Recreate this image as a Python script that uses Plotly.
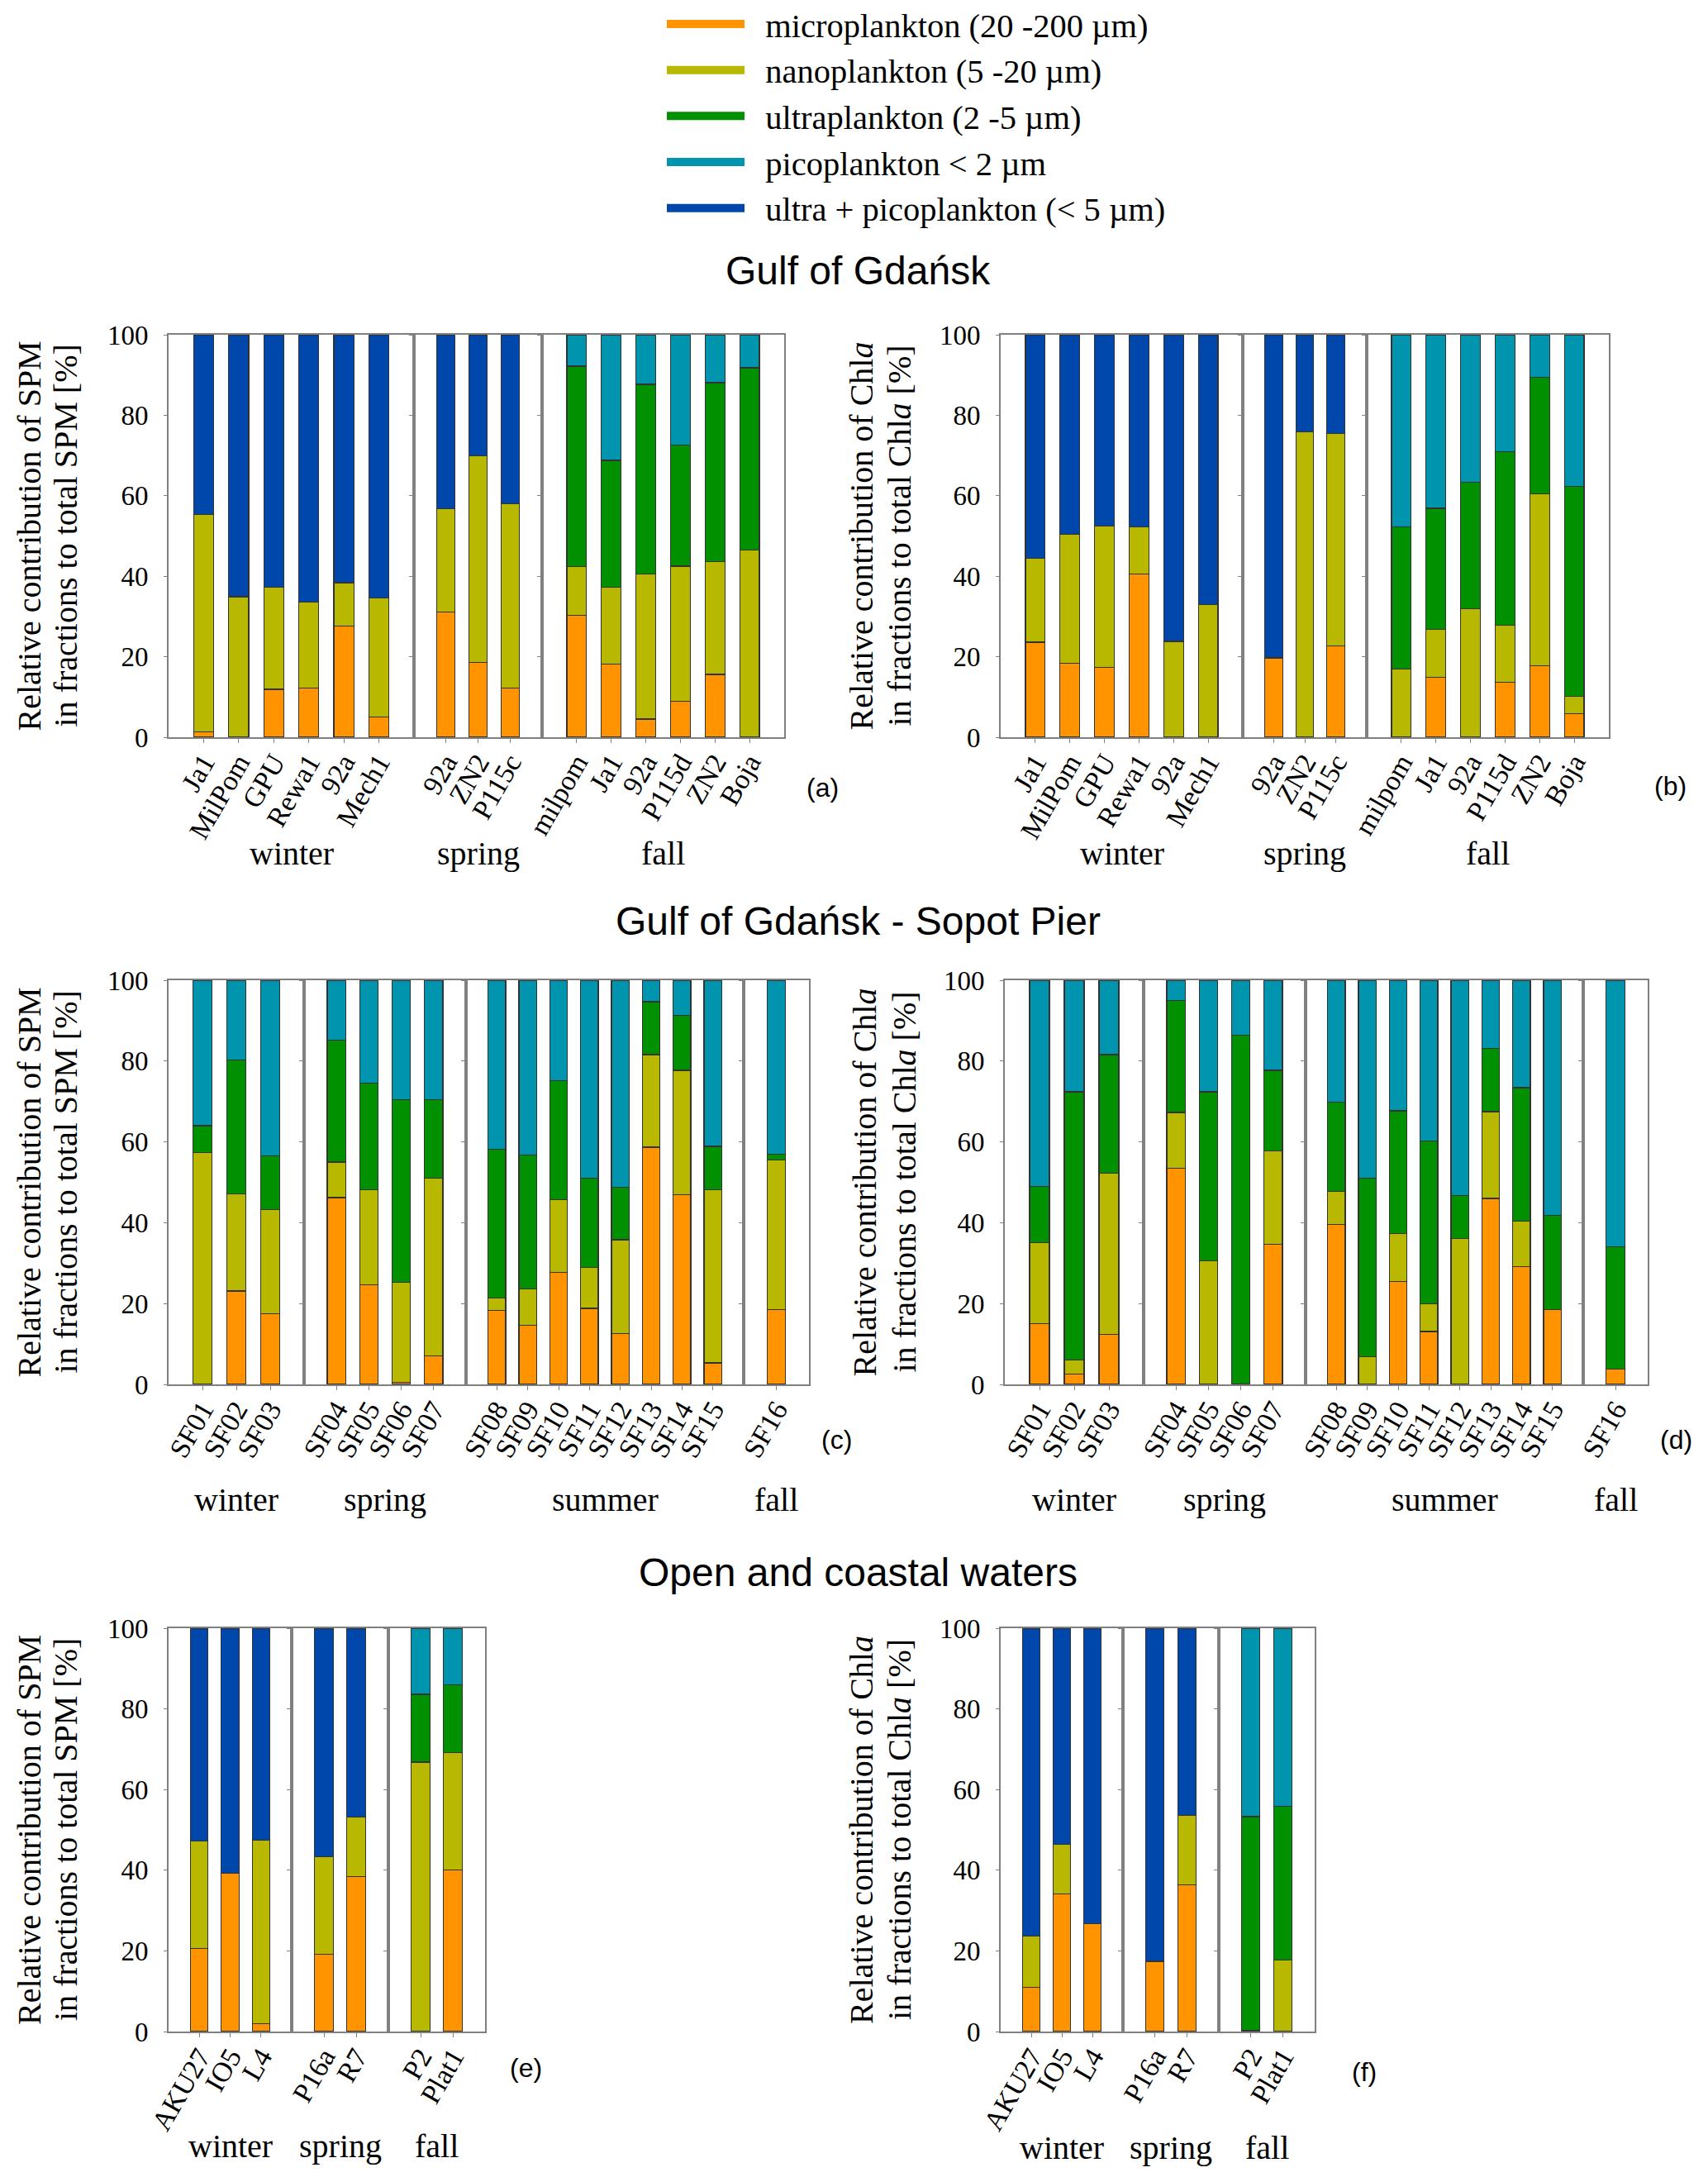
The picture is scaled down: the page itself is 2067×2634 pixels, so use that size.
import plotly.graph_objects as go

W, H = 2067, 2634
PAD = 8  # page body margin of the html
FW, FH = W - 2 * PAD, H - 2 * PAD
SERIF = "Liberation Serif"
SANS = "Liberation Sans"

fraction_names = [
    "microplankton (20 -200 µm)",
    "nanoplankton (5 -20 µm)",
    "ultraplankton (2 -5 µm)",
    "picoplankton < 2 µm",
    "ultra + picoplankton (< 5 µm)",
]
fraction_colors = ["#FF9400", "#B8B800", "#009000", "#0094AE", "#0047AB"]

# ---- (a) Gulf of Gdansk, SPM ----
a_stations = ["Ja1", "MilPom", "GPU", "Rewa1", "92a", "Mech1",
              "92a", "ZN2", "P115c",
              "milpom", "Ja1", "92a", "P115d", "ZN2", "Boja"]
a_seasons = ["winter"] * 6 + ["spring"] * 3 + ["fall"] * 6
a_micro = [1.4, 0, 11.9, 12.3, 27.7, 5.1, 31.1, 18.6, 12.3, 30.3, 18.1, 4.5, 9.0, 15.6, 0]
a_nano = [54.0, 34.9, 25.4, 21.2, 10.7, 29.5, 25.6, 51.4, 45.7, 12.1, 19.1, 36.1, 33.5, 28.0, 46.5]
a_ultra = [0, 0, 0, 0, 0, 0, 0, 0, 0, 49.8, 31.6, 47.1, 30.1, 44.5, 45.3]
a_pico = [0, 0, 0, 0, 0, 0, 0, 0, 0, 7.8, 31.2, 12.3, 27.4, 11.9, 8.2]
a_ultrapico = [44.6, 65.1, 62.7, 66.5, 61.6, 65.4, 43.3, 30.0, 42.0, 0, 0, 0, 0, 0, 0]

# ---- (b) Gulf of Gdansk, Chla ----
b_stations = a_stations
b_seasons = a_seasons
b_micro = [23.6, 18.3, 17.4, 40.5, 0, 0, 19.7, 0, 22.7, 0, 14.9, 0, 13.7, 17.7, 5.8]
b_nano = [20.8, 32.1, 35.1, 11.8, 23.8, 32.9, 0, 75.9, 52.8, 16.9, 11.9, 32.0, 14.2, 42.7, 4.3]
b_ultra = [0, 0, 0, 0, 0, 0, 0, 0, 0, 35.4, 30.1, 31.4, 43.1, 29.0, 52.3]
b_pico = [0, 0, 0, 0, 0, 0, 0, 0, 0, 47.7, 43.1, 36.6, 29.0, 10.6, 37.6]
b_ultrapico = [55.6, 49.6, 47.5, 47.7, 76.2, 67.1, 80.3, 24.1, 24.5, 0, 0, 0, 0, 0, 0]

# ---- (c) Sopot Pier, SPM ----
c_stations = ["SF01", "SF02", "SF03", "SF04", "SF05", "SF06", "SF07", "SF08",
              "SF09", "SF10", "SF11", "SF12", "SF13", "SF14", "SF15", "SF16"]
c_seasons = ["winter"] * 3 + ["spring"] * 4 + ["summer"] * 8 + ["fall"]
c_micro = [0, 23.1, 17.5, 46.2, 24.6, 0.5, 7.1, 18.3, 14.6, 27.7, 18.8, 12.6, 58.7, 47.0, 5.3, 18.5]
c_nano = [57.3, 24.1, 25.8, 8.8, 23.5, 24.7, 44.0, 3.0, 9.1, 18.0, 10.2, 23.2, 22.9, 30.7, 42.8, 37.1]
c_ultra = [6.7, 33.1, 13.3, 30.1, 26.4, 45.2, 19.3, 36.8, 33.1, 29.4, 22.0, 12.9, 13.1, 13.6, 10.8, 1.4]
c_pico = [36.0, 19.7, 43.4, 14.9, 25.5, 29.6, 29.6, 41.9, 43.2, 24.9, 49.0, 51.3, 5.3, 8.7, 41.1, 43.0]
c_ultrapico = [0] * 16

# ---- (d) Sopot Pier, Chla ----
d_stations = c_stations
d_seasons = c_seasons
d_micro = [15.1, 2.5, 12.4, 53.4, 0, 0, 34.7, 39.5, 0, 25.5, 13.1, 0, 46.0, 29.2, 18.5, 3.8]
d_nano = [20.0, 3.5, 39.8, 13.9, 30.5, 0, 23.0, 8.2, 6.9, 11.8, 6.9, 36.1, 21.5, 11.2, 0, 0]
d_ultra = [13.8, 66.4, 29.4, 27.7, 41.9, 86.4, 20.0, 22.1, 44.2, 30.4, 40.2, 10.6, 15.6, 33.0, 23.3, 30.3]
d_pico = [51.1, 27.6, 18.4, 5.0, 27.6, 13.6, 22.3, 30.2, 48.9, 32.3, 39.8, 53.3, 16.9, 26.6, 58.2, 65.9]
d_ultrapico = [0] * 16

# ---- (e) Open and coastal waters, SPM ----
e_stations = ["AKU27", "IO5", "L4", "P16a", "R7", "P2", "Plat1"]
e_seasons = ["winter"] * 3 + ["spring"] * 2 + ["fall"] * 2
e_micro = [20.6, 39.3, 1.9, 19.1, 38.5, 0, 40.1]
e_nano = [26.6, 0, 45.5, 24.2, 14.6, 66.8, 29.0]
e_ultra = [0, 0, 0, 0, 0, 16.8, 16.9]
e_pico = [0, 0, 0, 0, 0, 16.4, 14.0]
e_ultrapico = [52.8, 60.7, 52.6, 56.7, 46.9, 0, 0]

# ---- (f) Open and coastal waters, Chla ----
f_stations = e_stations
f_seasons = e_seasons
f_micro = [11.0, 34.2, 26.8, 17.4, 36.4, 0.3, 0]
f_nano = [12.7, 12.2, 0, 0, 17.2, 0, 17.7]
f_ultra = [0, 0, 0, 0, 0, 53.0, 38.1]
f_pico = [0, 0, 0, 0, 0, 46.7, 44.2]
f_ultrapico = [76.3, 53.6, 73.2, 82.6, 46.4, 0, 0]

spm_title = ["Relative contribution of SPM", "in fractions to total SPM [%]"]
chl_title = ["Relative contribution of Chl<i>a</i>", "in fractions to total Chl<i>a</i> [%]"]

# panel geometry in page pixels: group edges, top, bottom, y-title line x's, label pos, season label y
panels = [
    dict(st=a_stations, se=a_seasons, v=[a_micro, a_nano, a_ultra, a_pico, a_ultrapico],
         edges=[204, 501, 656, 949], top=405, bot=892, title=spm_title, tx=[35, 79],
         lab="(a)", lx=995, ly=953, sy=1032),
    dict(st=b_stations, se=b_seasons, v=[b_micro, b_nano, b_ultra, b_pico, b_ultrapico],
         edges=[1211, 1504, 1654, 1947], top=405, bot=892, title=chl_title, tx=[1042, 1088],
         lab="(b)", lx=2021, ly=951, sy=1032),
    dict(st=c_stations, se=c_seasons, v=[c_micro, c_nano, c_ultra, c_pico, c_ultrapico],
         edges=[204, 368, 564, 900, 979], top=1186, bot=1675, title=spm_title, tx=[35, 79],
         lab="(c)", lx=1012, ly=1742, sy=1814),
    dict(st=d_stations, se=d_seasons, v=[d_micro, d_nano, d_ultra, d_pico, d_ultrapico],
         edges=[1216, 1384, 1580, 1916, 1994], top=1186, bot=1675, title=chl_title, tx=[1046, 1094],
         lab="(d)", lx=2028, ly=1742, sy=1814),
    dict(st=e_stations, se=e_seasons, v=[e_micro, e_nano, e_ultra, e_pico, e_ultrapico],
         edges=[204, 353, 470, 587], top=1970, bot=2458, title=spm_title, tx=[35, 79],
         lab="(e)", lx=636, ly=2502, sy=2596),
    dict(st=f_stations, se=f_seasons, v=[f_micro, f_nano, f_ultra, f_pico, f_ultrapico],
         edges=[1211, 1359, 1475, 1591], top=1970, bot=2458, title=chl_title, tx=[1042, 1088],
         lab="(f)", lx=1651, ly=2507, sy=2598),
]

section_titles = [("Gulf of Gdańsk", 328), ("Gulf of Gdańsk - Sopot Pier", 1114),
                  ("Open and coastal waters", 1902)]


def px(x):
    return (x - PAD) / FW


def py(y):
    return 1 - (y - PAD) / FH


fig = go.Figure()
layout = {}
annotations = []
k = 0

for p in panels:
    seasons = list(dict.fromkeys(p["se"]))
    for gi, season in enumerate(seasons):
        k += 1
        xr = "x" if k == 1 else "x%d" % k
        yr = "y" if k == 1 else "y%d" % k
        idx = [i for i, s in enumerate(p["se"]) if s == season]
        cats = [p["st"][i] for i in idx]
        for fi in range(5):
            fig.add_trace(go.Bar(
                x=cats, y=[p["v"][fi][i] for i in idx],
                xaxis=xr, yaxis=yr, width=0.57, showlegend=False,
                marker=dict(color=fraction_colors[fi], line=dict(color="#333333", width=1.2)),
            ))
        layout["xaxis" if k == 1 else "xaxis%d" % k] = dict(
            domain=[px(p["edges"][gi]), px(p["edges"][gi + 1])], anchor=yr,
            type="category", range=[-1, len(cats)], tickangle=-60,
            tickmode="linear", tick0=0, dtick=1, automargin=False,
            ticks="outside", ticklen=5, tickcolor="#808080", ticklabelstandoff=-10,
            showline=True, mirror=True, linecolor="#808080", linewidth=2,
            showgrid=False, zeroline=False,
            tickfont=dict(family=SERIF, size=34, color="black"),
        )
        first = gi == 0
        layout["yaxis" if k == 1 else "yaxis%d" % k] = dict(
            domain=[py(p["bot"]), py(p["top"])], anchor=xr, range=[0, 100],
            tickvals=[0, 20, 40, 60, 80, 100], showticklabels=first, automargin=False,
            ticks="outside", ticklen=4, tickcolor="#808080",
            showline=True, mirror=True, linecolor="#808080", linewidth=2,
            showgrid=False, zeroline=False, ticklabelstandoff=12,
            tickfont=dict(family=SERIF, size=33, color="black"),
        )
        annotations.append(dict(
            text=season, x=px((p["edges"][gi] + p["edges"][gi + 1]) / 2), y=py(p["sy"]),
            xref="paper", yref="paper", showarrow=False, xanchor="center", yanchor="middle",
            font=dict(family=SERIF, size=40, color="black")))
    for line, lx in zip(p["title"], p["tx"]):
        annotations.append(dict(
            text=line, x=px(lx), y=py((p["top"] + p["bot"]) / 2), textangle=-90,
            xref="paper", yref="paper", showarrow=False, xanchor="center", yanchor="middle",
            font=dict(family=SERIF, size=40, color="black")))
    annotations.append(dict(
        text=p["lab"], x=px(p["lx"]), y=py(p["ly"]), xref="paper", yref="paper",
        showarrow=False, xanchor="center", yanchor="middle",
        font=dict(family=SANS, size=32, color="black")))

for txt, yy in section_titles:
    annotations.append(dict(
        text=txt, x=px(1038), y=py(yy), xref="paper", yref="paper", showarrow=False,
        xanchor="center", yanchor="middle", font=dict(family=SANS, size=48, color="black")))

# legend entries drawn as line swatches
for name, col in zip(fraction_names, fraction_colors):
    fig.add_trace(go.Scatter(x=[None], y=[None], mode="lines", name="\u00a0\u00a0" + name,
                             line=dict(color=col, width=10), xaxis="x", yaxis="y"))

fig.update_layout(
    **layout,
    template="none",
    annotations=annotations,
    barmode="stack",
    width=FW, height=FH,
    margin=dict(l=0, r=0, t=0, b=0, autoexpand=False),
    paper_bgcolor="white", plot_bgcolor="white",
    showlegend=True,
    legend=dict(x=px(802), y=1.0045, xanchor="left", yanchor="top", itemwidth=94,
                traceorder="normal",
                font=dict(family=SERIF, size=40.5, color="black"), bgcolor="rgba(0,0,0,0)",
                tracegroupgap=0),
)

fig.write_html("out.html")
